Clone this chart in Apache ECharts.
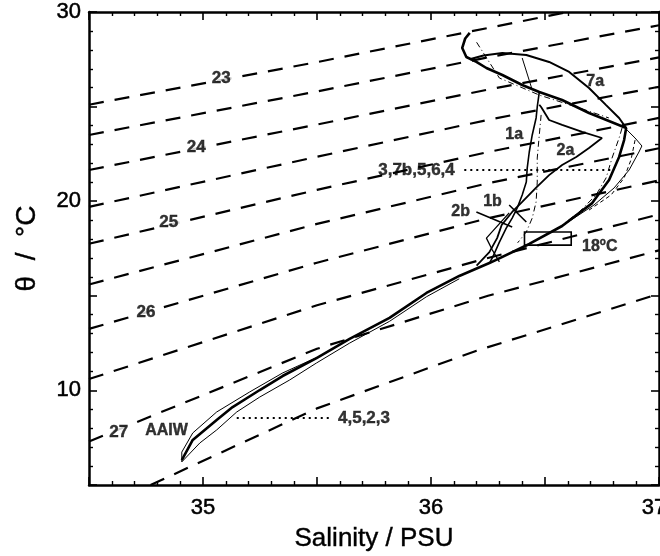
<!DOCTYPE html>
<html>
<head>
<meta charset="utf-8">
<script src="https://cdn.jsdelivr.net/npm/echarts@6/dist/echarts.min.js"></script>
<style>
  html, body { margin: 0; padding: 0; background: #fff; }
  #chart { width: 660px; height: 556px; }
</style>
</head>
<body>
<div id="chart"></div>
<script>
// isopycnals (sigma-theta), [salinity, theta]
const sig230 = [[34.5, 25.1], [35.5, 27.35], [36.6, 30.0]]
const sig235 = [[34.5, 23.5], [35.5, 25.8], [36.25, 27.6], [37.0, 29.3]]
const sig240 = [[34.5, 21.65], [35.5, 24.05], [36.25, 25.9], [37.0, 27.6]]
const sig245 = [[34.5, 19.7], [35.5, 22.35], [36.25, 24.3], [37.0, 26.05]]
const sig250 = [[34.5, 17.75], [35.5, 20.6], [36.25, 22.6], [37.0, 24.4]]
const sig255 = [[34.5, 15.6], [35.5, 18.8], [36.25, 20.95], [37.0, 22.8]]
const sig260 = [[34.5, 13.25], [35.5, 16.75], [36.25, 19.1], [37.0, 21.1]]
const sig265 = [[34.5, 10.6], [35.5, 14.5], [36.25, 17.0], [37.0, 19.3]]
const sig270 = [[34.5, 7.3], [35.5, 12.2], [36.25, 15.0], [37.0, 17.4]]
const sig275 = [[34.77, 5.0], [35.5, 9.05], [36.2, 12.1], [37.0, 15.1]]
const isoLines = [sig230, sig235, sig240, sig245, sig250, sig255, sig260, sig265, sig270, sig275]

const isoLabelText = ['23', '24', '25', '26', '27']
const isoLabelS = [35.08, 34.97, 34.85, 34.75, 34.63]
const isoLabelT = [26.5, 22.85, 18.9, 14.15, 7.8]

// station profiles
const mainProfile = [[34.907, 6.32], [34.955, 7.38], [35.06, 8.44], [35.13, 9.12], [35.249, 10.02], [35.349, 10.76],
  [35.498, 11.71], [35.643, 12.72], [35.818, 13.83], [35.98, 15.15], [36.124, 16.05], [36.256, 16.73], [36.431, 17.74],
  [36.575, 18.69], [36.707, 19.9], [36.781, 21.12], [36.825, 22.34], [36.847, 23.23], [36.856, 23.87], [36.737, 24.45],
  [36.693, 24.66], [36.575, 25.35], [36.475, 25.77], [36.4, 26.14], [36.313, 26.67], [36.243, 27.04], [36.199, 27.36],
  [36.155, 27.62], [36.137, 28.1], [36.15, 28.6], [36.17, 28.9]]
const lensUpper = [[34.907, 6.22], [34.907, 6.74], [34.955, 7.75], [35.06, 8.86], [35.205, 9.92], [35.349, 10.92], [35.5, 11.75]]
const lensLower = [[34.907, 6.22], [34.986, 7.22], [35.06, 7.91], [35.148, 8.86], [35.249, 9.65], [35.38, 10.55],
  [35.498, 11.45], [35.643, 12.5], [35.818, 13.65], [35.98, 14.95], [36.124, 15.9]]
const profile7a = [[36.856, 23.87], [36.825, 24.4], [36.768, 25.08], [36.693, 25.98], [36.606, 26.83], [36.518, 27.36],
  [36.418, 27.73], [36.313, 27.83], [36.23, 27.7], [36.17, 27.5]]
const profile1a = [[36.475, 25.77], [36.466, 24.98], [36.461, 24.4], [36.444, 23.5], [36.431, 22.6], [36.422, 21.75],
  [36.418, 21.01], [36.4, 20.33], [36.378, 19.64], [36.356, 19.11], [36.33, 18.58], [36.3, 17.84], [36.269, 17.0], [36.256, 16.73]]
const profile2a = [[36.475, 25.1], [36.483, 24.98], [36.518, 24.29], [36.575, 24.03], [36.663, 23.66], [36.75, 23.34],
  [36.693, 22.81], [36.637, 22.34], [36.575, 21.91], [36.518, 21.38], [36.46, 20.7], [36.4, 19.96], [36.356, 19.43],
  [36.31, 18.74], [36.29, 18.05], [36.256, 17.31], [36.2, 16.6]]
const profile2b = [[36.343, 19.38], [36.243, 18.05], [36.269, 17.42], [36.3, 16.79]]
const thinOuter = [[36.575, 18.69], [36.715, 19.8], [36.803, 20.7], [36.869, 21.65], [36.912, 22.6], [36.925, 22.92],
  [36.895, 23.34], [36.86, 23.76]]
const dashVert = [[36.483, 24.56], [36.475, 23.5], [36.466, 22.28], [36.466, 21.01], [36.461, 19.96], [36.444, 19.11],
  [36.418, 18.37], [36.38, 17.8]]
const dashRight = [[36.838, 23.87], [36.825, 23.34], [36.794, 22.28], [36.768, 21.23], [36.724, 20.33], [36.65, 19.43], [36.575, 18.74]]
const dashRight2 = [[36.895, 23.23], [36.877, 22.18], [36.847, 21.23], [36.79, 20.33], [36.693, 19.53]]
const dashTop = [[36.2, 28.4], [36.3, 26.51], [36.475, 25.61], [36.65, 24.93], [36.78, 24.4]]
const thinTop = [[36.4, 27.57], [36.444, 25.88]]

// marker ticks and dotted level lines
const tick1b = [[36.343, 19.8], [36.418, 18.9]]
const tick2b = [[36.199, 19.43], [36.356, 18.64]]
const dotUpper = [[36.146, 21.65], [36.79, 21.65]]
const dotLower = [[35.148, 8.54], [35.568, 8.54]]
const box18 = [[36.41, 18.37], [36.615, 17.68]]

const noteText = ['AAIW', '1a', '2a', '7a', '1b', '2b']
const noteS = [34.84, 36.365, 36.59, 36.72, 36.27, 36.13]
const noteT = [7.9, 23.5, 22.65, 26.3, 19.96, 19.43]

const xTicks = { min: 34.5, max: 37, interval: 0.5 }
const yTicks = { min: 5, max: 30, interval: 5 }

const chart = echarts.init(document.getElementById('chart'))
const black = '#000'
const font = 'Liberation Sans, Arial, sans-serif'

const axisCommon = {
    type: 'value',
    splitLine: { show: false },
    axisLine: { show: true, onZero: false, lineStyle: { color: black, width: 2.5 } },
    axisTick: { show: true, inside: true, length: 8, lineStyle: { color: black, width: 1.6 } },
    minorTick: { show: true, splitNumber: 5, length: 4, lineStyle: { color: black, width: 1.4 } }
}

const line = (data, width, type, extra) => Object.assign({
    type: 'line',
    data: data,
    showSymbol: false,
    symbol: 'none',
    smooth: false,
    lineStyle: { color: black, width: width, type: type || 'solid' },
    z: 3
}, extra || {})

let series = []
isoLines.forEach(d => {
    series.push(line(d, 2.2, [15, 11], { z: 2 }))
})
series.push(line(mainProfile, 2.6))
series.push(line(lensUpper, 1))
series.push(line(lensLower, 1))
series.push(line(profile7a, 2))
series.push(line(profile1a, 1.6))
series.push(line(profile2a, 1.8))
series.push(line(profile2b, 1.3))
series.push(line(thinOuter, 1))
series.push(line(dashVert, 1, [6, 3, 1, 3]))
series.push(line(dashRight, 1, [6, 3, 1, 3]))
series.push(line(dashRight2, 1, [4, 3]))
series.push(line(dashTop, 1, [6, 3, 1, 3]))
series.push(line(thinTop, 1))
series.push(line(tick1b, 1.6))
series.push(line(tick2b, 1.6))
series.push(line(dotUpper, 1.8, [2, 4]))
series.push(line(dotLower, 1.8, [2, 4]))
series.push(line([], 1, 'solid', {
    markArea: {
        silent: true,
        itemStyle: { color: 'rgba(255,255,255,0)', borderColor: black, borderWidth: 1.6 },
        data: [[{ coord: box18[0] }, { coord: box18[1] }]]
    }
}))

const labelStyle = { fontSize: 16, fontWeight: 'bold', fontFamily: font, color: black,
    textBorderColor: black, textBorderWidth: 0.4 }

const textSeries = (data, label) => ({
    type: 'scatter',
    symbolSize: 1,
    itemStyle: { color: 'rgba(0,0,0,0)' },
    z: 5,
    data: data,
    label: Object.assign({ show: true, position: 'inside', formatter: p => p.value[2] }, labelStyle, label)
})

series.push(textSeries(isoLabelText.map((t, i) => [isoLabelS[i], isoLabelT[i], t]),
    { backgroundColor: '#fff', padding: [1, 4], fontSize: 17 }))
series.push(textSeries(noteText.map((t, i) => [noteS[i], noteT[i], t]), {}))
series.push(textSeries([
    { value: [dotUpper[0][0], dotUpper[0][1], '3,7b,5,6,4'], label: { position: 'left', distance: 9 } },
    { value: [dotLower[1][0], dotLower[1][1], '4,5,2,3'], label: { position: 'right', distance: 5 } },
    { value: [36.74, 17.58, '18'], label: { position: 'inside', fontSize: 16, formatter: '{a|18}{s|o}{a|C}' } }
], {
    fontSize: 17,
    rich: {
        a: { fontSize: 16, fontWeight: 'bold', fontFamily: font, color: black, textBorderColor: black, textBorderWidth: 0.4 },
        s: { fontSize: 10, fontWeight: 'bold', fontFamily: font, color: black, padding: [0, 0, 9, 0] }
    }
}))

const tickLabel = { fontSize: 22, fontFamily: font, color: black, textBorderColor: black, textBorderWidth: 0.5 }

chart.setOption({
    animation: false,
    backgroundColor: '#fff',
    grid: { left: 89, right: 1, top: 12, bottom: 71, containLabel: false, outerBoundsMode: 'none' },
    xAxis: [
        Object.assign({}, axisCommon, xTicks, {
            position: 'bottom',
            name: 'Salinity / PSU',
            nameLocation: 'middle',
            nameGap: 41,
            nameTextStyle: { fontSize: 26, fontFamily: font, color: black, textBorderColor: black, textBorderWidth: 0.4 },
            axisLabel: Object.assign({
                margin: 12,
                formatter: v => !Number.isInteger(v) ? '' : (v === 37 ? '{r|37}' : String(v)),
                rich: { r: Object.assign({ padding: [0, 10, 0, 0] }, tickLabel) }
            }, tickLabel)
        }),
        Object.assign({}, axisCommon, xTicks, { position: 'top', axisLabel: { show: false } })
    ],
    yAxis: [
        Object.assign({}, axisCommon, yTicks, {
            position: 'left',
            name: 'θ  /  °C',
            nameLocation: 'middle',
            nameGap: 48,
            nameRotate: 90,
            nameTextStyle: { fontSize: 28, fontFamily: font, color: black, textBorderColor: black, textBorderWidth: 0.4 },
            axisLabel: Object.assign({ margin: 8, formatter: v => v % 10 === 0 ? String(v) : '' }, tickLabel)
        }),
        Object.assign({}, axisCommon, yTicks, { position: 'right', axisLabel: { show: false } })
    ],
    series: series
})
</script>
</body>
</html>
